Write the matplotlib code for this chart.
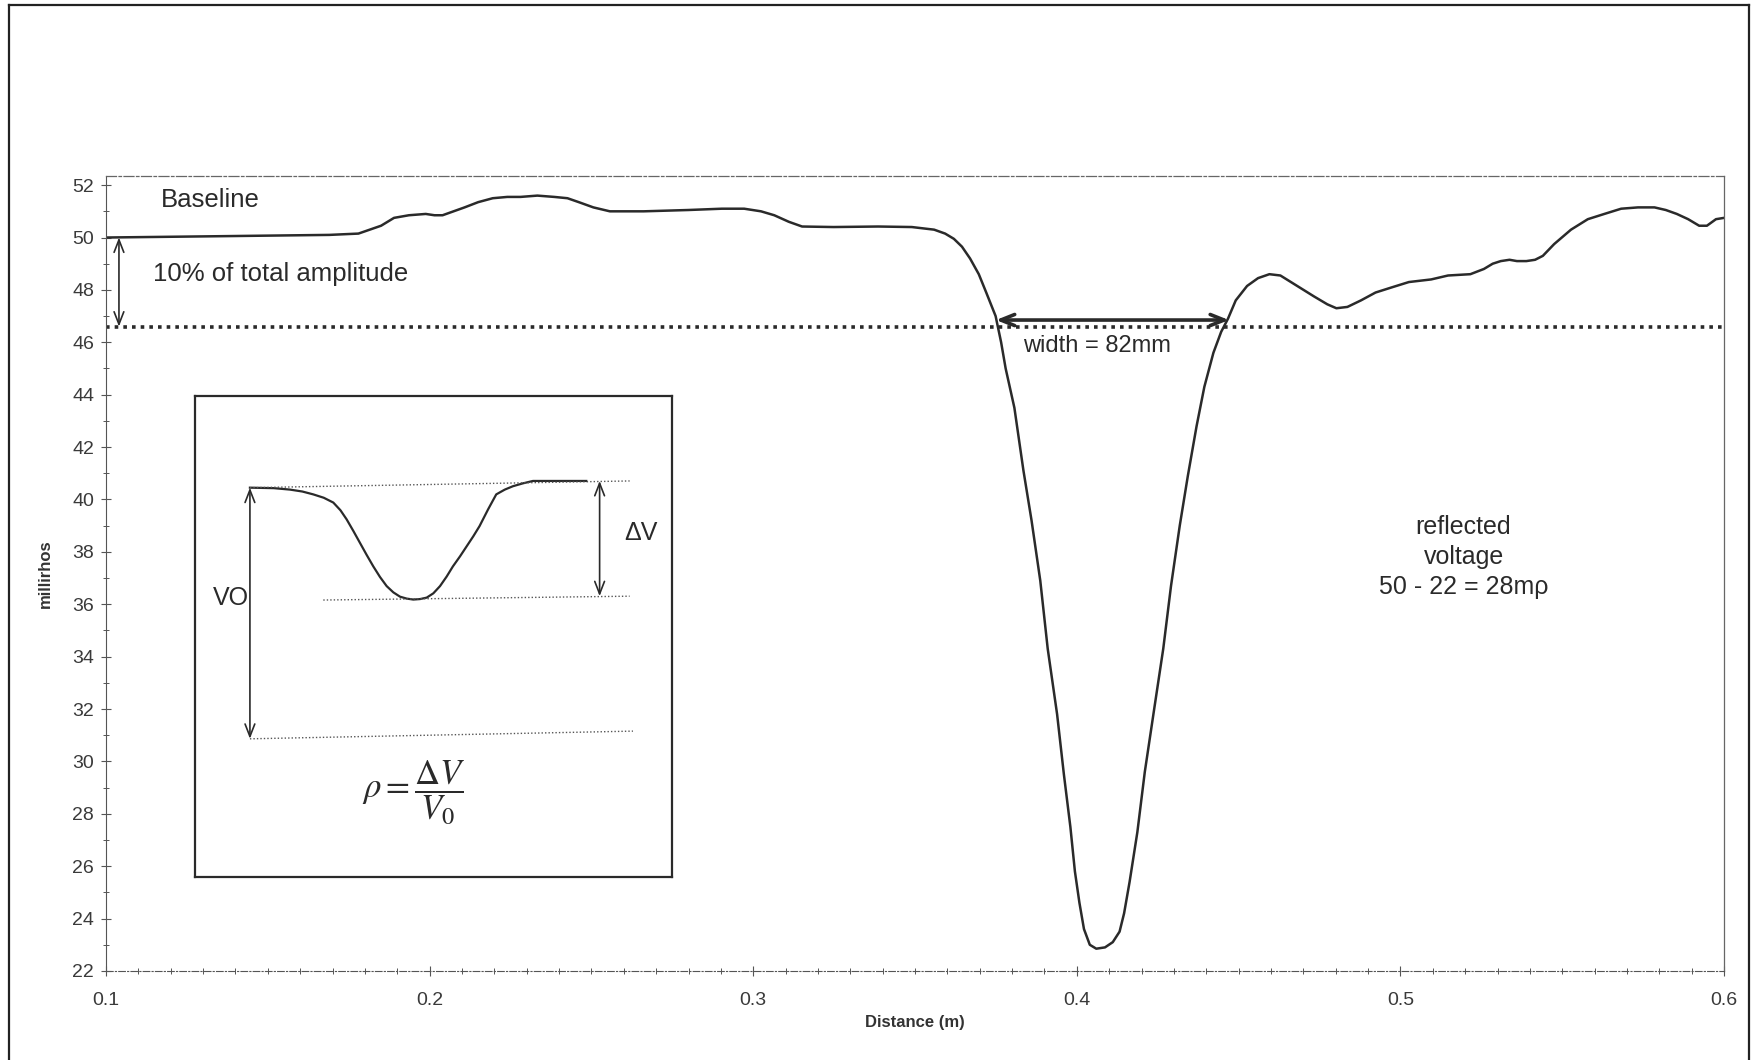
import numpy as np
import matplotlib
matplotlib.use("Agg")
import matplotlib.pyplot as plt
from matplotlib.lines import Line2D

plt.rcParams['font.family'] = ['Liberation Sans', 'DejaVu Sans']

# main trace
dist = [0.100, 0.135, 0.169, 0.178, 0.1815, 0.185, 0.189, 0.1936, 0.1988, 0.2015,
        0.204, 0.2074, 0.2108, 0.215, 0.2195, 0.224, 0.2281, 0.2333, 0.2385, 0.2426,
        0.2461, 0.2506, 0.2557, 0.2661, 0.2799, 0.2903, 0.2972, 0.3024, 0.3065, 0.311,
        0.3151, 0.3248, 0.3386, 0.349, 0.3559, 0.3593, 0.362, 0.3645, 0.367, 0.3697,
        0.372, 0.3749, 0.3766, 0.378, 0.3807, 0.3835, 0.386, 0.3887, 0.391, 0.3939,
        0.396, 0.398, 0.3994, 0.4008, 0.4022, 0.404, 0.406, 0.4087, 0.4111, 0.4132,
        0.4146, 0.4163, 0.4187, 0.421, 0.4239, 0.4267, 0.4291, 0.4318, 0.4343, 0.437,
        0.4394, 0.4422, 0.4446, 0.4467, 0.4491, 0.4526, 0.456, 0.4595, 0.4629, 0.4681,
        0.4733, 0.4774, 0.4802, 0.4836, 0.4878, 0.4923, 0.4974, 0.5026, 0.5095, 0.5147,
        0.5216, 0.5258, 0.5285, 0.531, 0.5337, 0.536, 0.5389, 0.5416, 0.544, 0.5475,
        0.5527, 0.5579, 0.563, 0.5682, 0.5734, 0.5785, 0.582, 0.5854, 0.5889, 0.5923,
        0.5947, 0.5975, 0.600]
mrho = [50.0, 50.05, 50.1, 50.15, 50.3, 50.45, 50.75, 50.85, 50.9, 50.85,
        50.85, 51.0, 51.15, 51.35, 51.5, 51.55, 51.55, 51.6, 51.55, 51.5,
        51.35, 51.15, 51.0, 51.0, 51.05, 51.1, 51.1, 51.0, 50.85, 50.6,
        50.42, 50.4, 50.42, 50.4, 50.3, 50.15, 49.95, 49.65, 49.2, 48.6,
        47.9, 47.0, 46.0, 45.0, 43.5, 41.1, 39.2, 36.9, 34.3, 31.8,
        29.5, 27.5, 25.8, 24.6, 23.6, 23.0, 22.85, 22.9, 23.1, 23.5,
        24.2, 25.4, 27.3, 29.6, 32.0, 34.3, 36.7, 39.0, 40.9, 42.8,
        44.3, 45.6, 46.4, 46.9, 47.6, 48.15, 48.45, 48.6, 48.55, 48.15,
        47.75, 47.45, 47.3, 47.35, 47.6, 47.9, 48.1, 48.3, 48.4, 48.55,
        48.6, 48.8, 49.0, 49.1, 49.15, 49.1, 49.1, 49.15, 49.3, 49.75,
        50.3, 50.7, 50.9, 51.1, 51.15, 51.15, 51.05, 50.9, 50.7, 50.45,
        50.45, 50.7, 50.75]

# sketch inside the inset box (box fraction units)
inset_x = [0.115, 0.165, 0.199, 0.225, 0.248, 0.270, 0.290, 0.305, 0.318, 0.332,
           0.346, 0.360, 0.374, 0.388, 0.402, 0.416, 0.430, 0.444, 0.458, 0.472,
           0.486, 0.500, 0.514, 0.528, 0.541, 0.556, 0.570, 0.584, 0.597, 0.615,
           0.632, 0.650, 0.667, 0.688, 0.709, 0.760, 0.821]
inset_y = [0.810, 0.809, 0.806, 0.802, 0.796, 0.789, 0.779, 0.763, 0.744, 0.720,
           0.695, 0.670, 0.646, 0.624, 0.605, 0.592, 0.583, 0.579, 0.577, 0.578,
           0.581, 0.590, 0.605, 0.625, 0.646, 0.667, 0.688, 0.709, 0.730, 0.765,
           0.796, 0.806, 0.813, 0.819, 0.824, 0.824, 0.824]

threshold = 46.6
y_ticks = list(range(22, 53, 2))
x_ticks = [0.1, 0.2, 0.3, 0.4, 0.5, 0.6]

ink = '#2a2a2a'
grey = '#555555'

fig = plt.figure(figsize=(17.58, 10.6), dpi=100)
ax = fig.add_axes([0.0603, 0.084, 0.9204, 0.750])

ax.plot(dist, mrho, color=ink, lw=1.8, solid_joinstyle='round', solid_capstyle='round')
ax.plot([0.1, 0.6], [threshold, threshold], color=ink, lw=2.6, ls=(0, (1, 1.4)))

ax.set_xlim(0.1, 0.6)
ax.set_ylim(22, 52.35)
ax.set_yticks(y_ticks)
ax.set_yticks(range(23, 53, 2), minor=True)
ax.set_xticks(x_ticks)
ax.set_xticks(np.arange(0.1, 0.6001, 0.01), minor=True)
ax.set_xticklabels(['0.1', '0.2', '0.3', '0.4', '0.5', '0.6'])
ax.tick_params(axis='both', which='major', direction='inout', length=7, width=0.8,
               color=grey, labelsize=14, labelcolor='#3a3a3a')
ax.tick_params(axis='y', which='major', pad=5)
ax.tick_params(axis='x', which='major', pad=12)
ax.tick_params(axis='both', which='minor', direction='inout', length=4, width=0.7, color=grey)

for side in ['top', 'right']:
    ax.spines[side].set_color('#666666')
    ax.spines[side].set_linewidth(0.9)
ax.spines['top'].set_linestyle((0, (8, 2, 2, 2)))
ax.spines['left'].set_color(grey)
ax.spines['bottom'].set_color(grey)
ax.spines['bottom'].set_linestyle((0, (6, 2, 1, 2)))

ax.set_xlabel('Distance (m)', fontsize=12, fontweight='bold', color='#333333', labelpad=4)
ax.set_ylabel('millirhos', fontsize=12, fontweight='bold', color='#333333', labelpad=14)

# annotations
ax.text(0.117, 51.45, 'Baseline', fontsize=18.5, color=ink, va='center')
ax.text(0.1145, 48.6, '10% of total amplitude', fontsize=18.5, color=ink, va='center')
ax.annotate('', xy=(0.104, 50.0), xytext=(0.104, threshold),
            arrowprops=dict(arrowstyle='<->,head_length=0.9,head_width=0.35',
                            color=ink, lw=1.2, shrinkA=0, shrinkB=0))
ax.annotate('', xy=(0.375, 46.85), xytext=(0.447, 46.85),
            arrowprops=dict(arrowstyle='<->,head_length=1.0,head_width=0.4',
                            color=ink, lw=2.6, shrinkA=0, shrinkB=0))
ax.text(0.3835, 45.85, 'width = 82mm', fontsize=17, color=ink, va='center')
ax.text(0.5195, 37.8, 'reflected\nvoltage\n50 - 22 = 28m\u03c1', fontsize=18,
        color=ink, ha='center', va='center', linespacing=1.3)

# inset sketch
ins = fig.add_axes([0.111, 0.173, 0.271, 0.453])
ins.set_xlim(0, 1)
ins.set_ylim(0, 1)
ins.set_xticks([])
ins.set_yticks([])
for s in ins.spines.values():
    s.set_linewidth(1.6)
    s.set_color(ink)
ins.plot(inset_x, inset_y, color=ink, lw=1.6, solid_joinstyle='round')
ins.plot([0.115, 0.912], [0.810, 0.824], color=grey, lw=1.0, ls=(0, (1, 1.5)))
ins.plot([0.269, 0.912], [0.576, 0.584], color=grey, lw=1.0, ls=(0, (1, 1.5)))
ins.plot([0.115, 0.919], [0.287, 0.303], color=grey, lw=1.0, ls=(0, (1, 1.5)))
ins.annotate('', xy=(0.115, 0.810), xytext=(0.115, 0.287),
             arrowprops=dict(arrowstyle='<->,head_length=0.9,head_width=0.35',
                             color=ink, lw=1.2, shrinkA=0, shrinkB=0))
ins.annotate('', xy=(0.849, 0.824), xytext=(0.849, 0.584),
             arrowprops=dict(arrowstyle='<->,head_length=0.9,head_width=0.35',
                             color=ink, lw=1.2, shrinkA=0, shrinkB=0))
ins.text(0.075, 0.58, 'VO', fontsize=18, color=ink, ha='center', va='center')
ins.text(0.936, 0.716, '\u0394V', fontsize=18, color=ink, ha='center', va='center')
ins.text(0.46, 0.175, r'$\rho = \dfrac{\Delta V}{V_0}$', fontsize=25, color=ink,
         ha='center', va='center', math_fontfamily='stix')

# scan edge of the page
for xs, ys in [([0.005, 0.005], [0.0, 0.995]),
               ([0.005, 0.995], [0.995, 0.995]),
               ([0.995, 0.995], [0.0, 0.995])]:
    fig.add_artist(Line2D(xs, ys, transform=fig.transFigure, color='#222222', lw=1.6))

fig.savefig('out.png', dpi=100, facecolor='white')
